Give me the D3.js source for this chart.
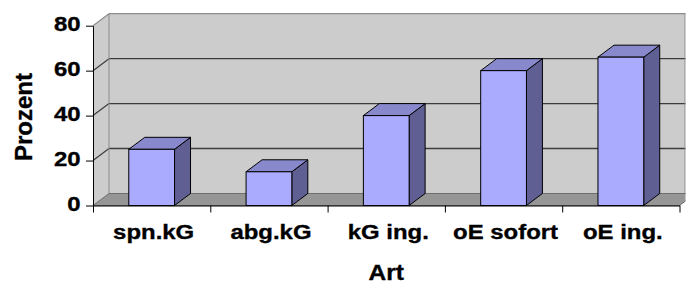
<!DOCTYPE html>
<html>
<head>
<meta charset="utf-8">
<script src="https://cdn.jsdelivr.net/npm/d3@7/dist/d3.min.js"></script>
<style>
  body { margin: 0; background: #fff; }
  text { font-family: "Liberation Sans", Arial, sans-serif; font-weight: bold; fill: #000; stroke: #000; stroke-width: 0.35px; }
</style>
</head>
<body>
<svg id="chart" width="686" height="286"></svg>
<script>
//////////////////// DATA ////////////////////
const categories = ["spn.kG", "abg.kG", "kG ing.", "oE sofort", "oE ing."];
const values = [25, 15, 40, 60, 66];
const yTicks = [0, 20, 40, 60, 80];
const yTitle = "Prozent";
const xTitle = "Art";

//////////////////// SIZES ////////////////////
const svg = d3.select("#chart");
const plot = { left: 93, right: 679.5, top: 25.7, bottom: 205.5 };
const depth = { dx: 16, dy: -12 };   // 3d offset front -> back
const stretch = 1.14;                // text looks a bit wider than tall

//////////////////// SCALES ////////////////////
const x = d3.scaleBand()
    .domain(categories)
    .range([plot.left, plot.right]);

const xEdges = d3.scaleLinear()
    .domain([0, categories.length])
    .range([plot.left, plot.right]);

const y = d3.scaleLinear()
    .domain([0, 80])
    .range([plot.bottom, plot.top]);

const barW = x.bandwidth() * 0.39;
const pts = p => p.map(d => d.join(",")).join(" ");

svg.append("clipPath").attr("id", "clipWall")
    .append("rect").attr("x", 0).attr("y", 0).attr("width", 685.5).attr("height", 286);

const walls = svg.append("g").attr("clip-path", "url(#clipWall)");

//////////////////// WALLS + FLOOR ////////////////////
const bx0 = plot.left + depth.dx, bx1 = plot.right + depth.dx;
const yTop = y(80), yBot = y(0);

// side wall
walls.append("polygon")
    .attr("points", pts([[plot.left, yTop], [bx0, yTop + depth.dy], [bx0, yBot + depth.dy], [plot.left, yBot]]))
    .attr("fill", "#cccccc");

// back wall
walls.append("polygon")
    .attr("points", pts([[bx0, yTop + depth.dy], [bx1, yTop + depth.dy], [bx1, yBot + depth.dy], [bx0, yBot + depth.dy]]))
    .attr("fill", "#cccccc");

// gridlines on back wall and side wall
yTicks.filter(t => t > 0).forEach(t => {
    const col = t === 80 ? "#8c8c8c" : "#3c3c3c";
    walls.append("line")
        .attr("x1", bx0).attr("x2", bx1)
        .attr("y1", y(t) + depth.dy).attr("y2", y(t) + depth.dy)
        .attr("stroke", col).attr("stroke-width", t === 80 ? 1.3 : 1.4);
    walls.append("line")
        .attr("x1", plot.left).attr("x2", bx0)
        .attr("y1", y(t)).attr("y2", y(t) + depth.dy)
        .attr("stroke", col).attr("stroke-width", 1.2);
});

// wall edges
walls.append("line")
    .attr("x1", bx0).attr("x2", bx0)
    .attr("y1", yTop + depth.dy).attr("y2", yBot + depth.dy)
    .attr("stroke", "#8c8c8c");
walls.append("line")
    .attr("x1", 685).attr("x2", 685)
    .attr("y1", yTop + depth.dy).attr("y2", yBot + depth.dy)
    .attr("stroke", "#8c8c8c");

// floor
walls.append("polygon")
    .attr("points", pts([[plot.left, yBot], [plot.right, yBot], [bx1, yBot + depth.dy], [bx0, yBot + depth.dy]]))
    .attr("fill", "#969696")
    .attr("stroke", "#6e6e6e")
    .attr("stroke-width", 1);

//////////////////// BARS ////////////////////
const bars = svg.append("g")
    .selectAll("g")
    .data(categories.map((c, i) => ({ c, v: values[i] })))
    .join("g");

bars.each(function (d) {
    const g = d3.select(this);
    const x0 = x(d.c) + (x.bandwidth() - barW) / 2;
    const x1 = x0 + barW;
    const yv = y(d.v);
    // side face
    g.append("polygon")
        .attr("points", pts([[x1, yv], [x1 + depth.dx, yv + depth.dy], [x1 + depth.dx, yBot + depth.dy], [x1, yBot]]))
        .attr("fill", "#5f5f94").attr("stroke", "#000").attr("stroke-width", 1);
    // top face
    g.append("polygon")
        .attr("points", pts([[x0, yv], [x0 + depth.dx, yv + depth.dy], [x1 + depth.dx, yv + depth.dy], [x1, yv]]))
        .attr("fill", "#8888cc").attr("stroke", "#000").attr("stroke-width", 1);
    // front face
    g.append("rect")
        .attr("x", x0).attr("y", yv)
        .attr("width", barW).attr("height", yBot - yv)
        .attr("fill", "#aaaaff").attr("stroke", "#000").attr("stroke-width", 1);
});

//////////////////// AXES ////////////////////
svg.append("g")
    .attr("transform", `translate(${plot.left},0)`)
    .call(d3.axisLeft(y).tickValues(yTicks).tickSize(7).tickSizeOuter(0).tickFormat(""))
    .call(g => g.selectAll("line, path").attr("stroke", "#000"));

svg.append("g")
    .attr("transform", `translate(0,${plot.bottom})`)
    .call(d3.axisBottom(xEdges).ticks(categories.length).tickSize(7).tickSizeOuter(0).tickFormat(""))
    .call(g => g.selectAll("line, path").attr("stroke", "#000"));

//////////////////// LABELS ////////////////////
svg.append("g")
    .selectAll("text")
    .data(yTicks)
    .join("text")
    .attr("text-anchor", "end")
    .attr("font-size", 21)
    .attr("transform", d => `translate(80.5,${y(d) + 5}) scale(${stretch},1)`)
    .text(d => d);

svg.append("g")
    .selectAll("text")
    .data(categories)
    .join("text")
    .attr("text-anchor", "middle")
    .attr("font-size", 21)
    .attr("transform", d => `translate(${x(d) + x.bandwidth() / 2 + 2},239) scale(${stretch},1)`)
    .text(d => d);

svg.append("text")
    .attr("text-anchor", "middle")
    .attr("font-size", 21.5)
    .attr("transform", `translate(${(plot.left + plot.right) / 2},280) scale(${stretch},1)`)
    .text(xTitle);

svg.append("text")
    .attr("text-anchor", "middle")
    .attr("font-size", 24)
    .attr("transform", "translate(31.5,117) rotate(-90)")
    .text(yTitle);
</script>
</body>
</html>
